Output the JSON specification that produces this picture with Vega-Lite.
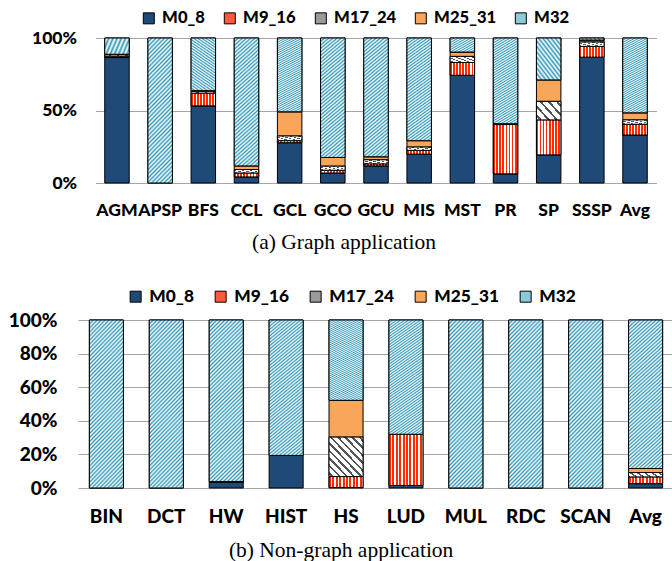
{
"$schema": "https://vega.github.io/schema/vega-lite/v6.json",
"background": "white",
"padding": {"left": 8, "right": 0, "top": 10, "bottom": 0},
"center": true,
"spacing": 35,
"config": {"view": {"stroke": null}},
"resolve": {"scale": {"color": "independent", "x": "independent", "y": "independent"}, "legend": {"color": "independent"}},
"vconcat": [
{
"width": 561, "height": 145,
"title": {"text": "(a) Graph application", "orient": "bottom", "anchor": "middle", "frame": "bounds", "font": "Liberation Serif", "fontSize": 21.5, "fontWeight": "normal", "color": "black", "offset": 13},
"data": {"values": [
{"app":"AGM","m":"M0_8","k":0,"v":86.5},{"app":"AGM","m":"M9_16","k":1,"v":1.0},{"app":"AGM","m":"M17_24","k":2,"v":1.0},{"app":"AGM","m":"M25_31","k":3,"v":0.3},{"app":"AGM","m":"M32","k":4,"v":11.2},
{"app":"APSP","m":"M32","k":4,"v":100},
{"app":"BFS","m":"M0_8","k":0,"v":53.2},{"app":"BFS","m":"M9_16","k":1,"v":8.8},{"app":"BFS","m":"M17_24","k":2,"v":1.2},{"app":"BFS","m":"M25_31","k":3,"v":0.5},{"app":"BFS","m":"M32","k":4,"v":36.3},
{"app":"CCL","m":"M0_8","k":0,"v":4.2},{"app":"CCL","m":"M9_16","k":1,"v":2.7},{"app":"CCL","m":"M17_24","k":2,"v":2.4},{"app":"CCL","m":"M25_31","k":3,"v":2.5},{"app":"CCL","m":"M32","k":4,"v":88.2},
{"app":"GCL","m":"M0_8","k":0,"v":27.8},{"app":"GCL","m":"M9_16","k":1,"v":1.4},{"app":"GCL","m":"M17_24","k":2,"v":3.2},{"app":"GCL","m":"M25_31","k":3,"v":16.7},{"app":"GCL","m":"M32","k":4,"v":50.9},
{"app":"GCO","m":"M0_8","k":0,"v":6.9},{"app":"GCO","m":"M9_16","k":1,"v":1.9},{"app":"GCO","m":"M17_24","k":2,"v":2.8},{"app":"GCO","m":"M25_31","k":3,"v":6.0},{"app":"GCO","m":"M32","k":4,"v":82.4},
{"app":"GCU","m":"M0_8","k":0,"v":11.8},{"app":"GCU","m":"M9_16","k":1,"v":1.4},{"app":"GCU","m":"M17_24","k":2,"v":2.8},{"app":"GCU","m":"M25_31","k":3,"v":2.1},{"app":"GCU","m":"M32","k":4,"v":81.9},
{"app":"MIS","m":"M0_8","k":0,"v":19.9},{"app":"MIS","m":"M9_16","k":1,"v":2.6},{"app":"MIS","m":"M17_24","k":2,"v":2.3},{"app":"MIS","m":"M25_31","k":3,"v":4.4},{"app":"MIS","m":"M32","k":4,"v":70.8},
{"app":"MST","m":"M0_8","k":0,"v":74.3},{"app":"MST","m":"M9_16","k":1,"v":8.8},{"app":"MST","m":"M17_24","k":2,"v":4.2},{"app":"MST","m":"M25_31","k":3,"v":3.0},{"app":"MST","m":"M32","k":4,"v":9.7},
{"app":"PR","m":"M0_8","k":0,"v":6.3},{"app":"PR","m":"M9_16","k":1,"v":34.0},{"app":"PR","m":"M17_24","k":2,"v":0.6},{"app":"PR","m":"M32","k":4,"v":59.1},
{"app":"SP","m":"M0_8","k":0,"v":19.4},{"app":"SP","m":"M9_16","k":1,"v":24.1},{"app":"SP","m":"M17_24","k":2,"v":12.8},{"app":"SP","m":"M25_31","k":3,"v":14.8},{"app":"SP","m":"M32","k":4,"v":28.9},
{"app":"SSSP","m":"M0_8","k":0,"v":86.8},{"app":"SSSP","m":"M9_16","k":1,"v":7.4},{"app":"SSSP","m":"M17_24","k":2,"v":3.0},{"app":"SSSP","m":"M25_31","k":3,"v":1.4},{"app":"SSSP","m":"M32","k":4,"v":1.4},
{"app":"Avg","m":"M0_8","k":0,"v":33.1},{"app":"Avg","m":"M9_16","k":1,"v":7.4},{"app":"Avg","m":"M17_24","k":2,"v":3.0},{"app":"Avg","m":"M25_31","k":3,"v":4.9},{"app":"Avg","m":"M32","k":4,"v":51.6}
]},
"transform": [{"stack": "v", "groupby": ["app"], "sort": [{"field": "k", "order": "ascending"}], "offset": "normalize", "as": ["lo", "hi"]}],
"encoding": {
"x": {"field": "app", "type": "nominal", "sort": null, "scale": {"domain": ["AGM","APSP","BFS","CCL","GCL","GCO","GCU","MIS","MST","PR","SP","SSSP","Avg"], "paddingInner": 0.433, "paddingOuter": 0.214},
 "axis": {"title": null, "labelAngle": 0, "labelFont": "Lato", "labelFontWeight": 900, "labelFontSize": 17.5, "labelColor": "black", "labelPadding": 18, "labelOverlap": false, "ticks": false, "domain": false, "grid": false}},
"y": {"field": "lo", "type": "quantitative", "scale": {"domain": [0, 1]},
 "axis": {"title": null, "values": [0, 0.5, 1], "format": ".0%", "labelFont": "Lato", "labelFontWeight": 900, "labelFontSize": 17.5, "labelColor": "black", "labelPadding": 19, "ticks": false, "domain": false, "grid": true, "gridColor": "#a6a6a6", "gridWidth": 1}},
"y2": {"field": "hi"}
},
"layer": [
{"mark": {"type": "bar", "stroke": "black", "strokeWidth": 1},
 "encoding": {"color": {"field": "m", "type": "nominal",
  "scale": {"domain": ["M0_8", "M9_16", "M17_24", "M25_31", "M32"], "range": ["#1F4A78", "#FF5A3C", "#9A9A9A", "#F9A65A", "#8CC9DA"]},
  "legend": {"orient": "none", "legendX": 45, "legendY": -28, "direction": "horizontal", "title": null, "padding": 0, "symbolType": "square", "symbolSize": 121, "symbolStrokeColor": "black", "symbolStrokeWidth": 1, "symbolOpacity": 1, "labelFont": "Lato", "labelFontWeight": 900, "labelFontSize": 16.6, "labelColor": "black", "labelOffset": 5, "columnPadding": 16}}}},
{"transform": [{"filter": "datum.m === 'M9_16'"}],
 "mark": {"type": "bar", "stroke": "black", "strokeWidth": 1, "fill": {"gradient": "linear", "x1": 0, "y1": 0, "x2": 1, "y2": 0, "stops": [
    {"offset":0,"color":"#FF2A00"},{"offset":0.075,"color":"#FF2A00"},{"offset":0.075,"color":"#FFFFFF"},{"offset":0.125,"color":"#FFFFFF"},
    {"offset":0.125,"color":"#FF2A00"},{"offset":0.2,"color":"#FF2A00"},{"offset":0.2,"color":"#FFFFFF"},{"offset":0.25,"color":"#FFFFFF"},
    {"offset":0.25,"color":"#FF2A00"},{"offset":0.325,"color":"#FF2A00"},{"offset":0.325,"color":"#FFFFFF"},{"offset":0.375,"color":"#FFFFFF"},
    {"offset":0.375,"color":"#FF2A00"},{"offset":0.45,"color":"#FF2A00"},{"offset":0.45,"color":"#FFFFFF"},{"offset":0.5,"color":"#FFFFFF"},
    {"offset":0.5,"color":"#FF2A00"},{"offset":0.575,"color":"#FF2A00"},{"offset":0.575,"color":"#FFFFFF"},{"offset":0.625,"color":"#FFFFFF"},
    {"offset":0.625,"color":"#FF2A00"},{"offset":0.7,"color":"#FF2A00"},{"offset":0.7,"color":"#FFFFFF"},{"offset":0.75,"color":"#FFFFFF"},
    {"offset":0.75,"color":"#FF2A00"},{"offset":0.825,"color":"#FF2A00"},{"offset":0.825,"color":"#FFFFFF"},{"offset":0.875,"color":"#FFFFFF"},
    {"offset":0.875,"color":"#FF2A00"},{"offset":0.95,"color":"#FF2A00"},{"offset":0.95,"color":"#FFFFFF"},{"offset":1,"color":"#FFFFFF"}]}}},
{"transform": [{"filter": "datum.m === 'M17_24'"}],
 "mark": {"type": "bar", "stroke": "black", "strokeWidth": 1, "fill": {"gradient": "linear", "x1": 0, "y1": 1, "x2": 1.147, "y2": 0.22, "stops": [
    {"offset":0,"color":"#FFFFFF"},{"offset":0.07,"color":"#FFFFFF"},{"offset":0.07,"color":"#555555"},{"offset":0.13,"color":"#555555"},
    {"offset":0.13,"color":"#FFFFFF"},{"offset":0.27,"color":"#FFFFFF"},{"offset":0.27,"color":"#555555"},{"offset":0.33,"color":"#555555"},
    {"offset":0.33,"color":"#FFFFFF"},{"offset":0.47,"color":"#FFFFFF"},{"offset":0.47,"color":"#555555"},{"offset":0.53,"color":"#555555"},
    {"offset":0.53,"color":"#FFFFFF"},{"offset":0.67,"color":"#FFFFFF"},{"offset":0.67,"color":"#555555"},{"offset":0.73,"color":"#555555"},
    {"offset":0.73,"color":"#FFFFFF"},{"offset":0.87,"color":"#FFFFFF"},{"offset":0.87,"color":"#555555"},{"offset":0.93,"color":"#555555"},
    {"offset":0.93,"color":"#FFFFFF"},{"offset":1,"color":"#FFFFFF"}]}}},
{"transform": [{"filter": "datum.m === 'M32'"}],
 "mark": {"type": "bar", "stroke": "black", "strokeWidth": 1, "fill": {"gradient": "linear", "x1": 0, "y1": 0, "x2": 0.196, "y2": 1.138, "stops": [
    {"offset":0,"color":"#3399BB"},{"offset":0.0125,"color":"#FFFFFF"},{"offset":0.025,"color":"#3399BB"},{"offset":0.0375,"color":"#FFFFFF"},
    {"offset":0.05,"color":"#3399BB"},{"offset":0.0625,"color":"#FFFFFF"},{"offset":0.075,"color":"#3399BB"},{"offset":0.0875,"color":"#FFFFFF"},
    {"offset":0.1,"color":"#3399BB"},{"offset":0.1125,"color":"#FFFFFF"},{"offset":0.125,"color":"#3399BB"},{"offset":0.1375,"color":"#FFFFFF"},
    {"offset":0.15,"color":"#3399BB"},{"offset":0.1625,"color":"#FFFFFF"},{"offset":0.175,"color":"#3399BB"},{"offset":0.1875,"color":"#FFFFFF"},
    {"offset":0.2,"color":"#3399BB"},{"offset":0.2125,"color":"#FFFFFF"},{"offset":0.225,"color":"#3399BB"},{"offset":0.2375,"color":"#FFFFFF"},
    {"offset":0.25,"color":"#3399BB"},{"offset":0.2625,"color":"#FFFFFF"},{"offset":0.275,"color":"#3399BB"},{"offset":0.2875,"color":"#FFFFFF"},
    {"offset":0.3,"color":"#3399BB"},{"offset":0.3125,"color":"#FFFFFF"},{"offset":0.325,"color":"#3399BB"},{"offset":0.3375,"color":"#FFFFFF"},
    {"offset":0.35,"color":"#3399BB"},{"offset":0.3625,"color":"#FFFFFF"},{"offset":0.375,"color":"#3399BB"},{"offset":0.3875,"color":"#FFFFFF"},
    {"offset":0.4,"color":"#3399BB"},{"offset":0.4125,"color":"#FFFFFF"},{"offset":0.425,"color":"#3399BB"},{"offset":0.4375,"color":"#FFFFFF"},
    {"offset":0.45,"color":"#3399BB"},{"offset":0.4625,"color":"#FFFFFF"},{"offset":0.475,"color":"#3399BB"},{"offset":0.4875,"color":"#FFFFFF"},
    {"offset":0.5,"color":"#3399BB"},{"offset":0.5125,"color":"#FFFFFF"},{"offset":0.525,"color":"#3399BB"},{"offset":0.5375,"color":"#FFFFFF"},
    {"offset":0.55,"color":"#3399BB"},{"offset":0.5625,"color":"#FFFFFF"},{"offset":0.575,"color":"#3399BB"},{"offset":0.5875,"color":"#FFFFFF"},
    {"offset":0.6,"color":"#3399BB"},{"offset":0.6125,"color":"#FFFFFF"},{"offset":0.625,"color":"#3399BB"},{"offset":0.6375,"color":"#FFFFFF"},
    {"offset":0.65,"color":"#3399BB"},{"offset":0.6625,"color":"#FFFFFF"},{"offset":0.675,"color":"#3399BB"},{"offset":0.6875,"color":"#FFFFFF"},
    {"offset":0.7,"color":"#3399BB"},{"offset":0.7125,"color":"#FFFFFF"},{"offset":0.725,"color":"#3399BB"},{"offset":0.7375,"color":"#FFFFFF"},
    {"offset":0.75,"color":"#3399BB"},{"offset":0.7625,"color":"#FFFFFF"},{"offset":0.775,"color":"#3399BB"},{"offset":0.7875,"color":"#FFFFFF"},
    {"offset":0.8,"color":"#3399BB"},{"offset":0.8125,"color":"#FFFFFF"},{"offset":0.825,"color":"#3399BB"},{"offset":0.8375,"color":"#FFFFFF"},
    {"offset":0.85,"color":"#3399BB"},{"offset":0.8625,"color":"#FFFFFF"},{"offset":0.875,"color":"#3399BB"},{"offset":0.8875,"color":"#FFFFFF"},
    {"offset":0.9,"color":"#3399BB"},{"offset":0.9125,"color":"#FFFFFF"},{"offset":0.925,"color":"#3399BB"},{"offset":0.9375,"color":"#FFFFFF"},
    {"offset":0.95,"color":"#3399BB"},{"offset":0.9625,"color":"#FFFFFF"},{"offset":0.975,"color":"#3399BB"},{"offset":0.9875,"color":"#FFFFFF"},
    {"offset":1,"color":"#3399BB"}]}}}
]
},
{
"width": 596, "height": 168,
"title": {"text": "(b) Non-graph application", "orient": "bottom", "anchor": "middle", "frame": "bounds", "font": "Liberation Serif", "fontSize": 21.5, "fontWeight": "normal", "color": "black", "offset": 14},
"data": {"values": [
{"app":"BIN","m":"M32","k":4,"v":100},
{"app":"DCT","m":"M32","k":4,"v":100},
{"app":"HW","m":"M0_8","k":0,"v":3.5},{"app":"HW","m":"M9_16","k":1,"v":0.4},{"app":"HW","m":"M32","k":4,"v":96.1},
{"app":"HIST","m":"M0_8","k":0,"v":19.4},{"app":"HIST","m":"M32","k":4,"v":80.6},
{"app":"HS","m":"M0_8","k":0,"v":0.3},{"app":"HS","m":"M9_16","k":1,"v":6.5},{"app":"HS","m":"M17_24","k":2,"v":23.5},{"app":"HS","m":"M25_31","k":3,"v":21.9},{"app":"HS","m":"M32","k":4,"v":47.8},
{"app":"LUD","m":"M0_8","k":0,"v":1.5},{"app":"LUD","m":"M9_16","k":1,"v":30.5},{"app":"LUD","m":"M32","k":4,"v":68.0},
{"app":"MUL","m":"M32","k":4,"v":100},
{"app":"RDC","m":"M32","k":4,"v":100},
{"app":"SCAN","m":"M32","k":4,"v":100},
{"app":"Avg","m":"M0_8","k":0,"v":2.6},{"app":"Avg","m":"M9_16","k":1,"v":4.0},{"app":"Avg","m":"M17_24","k":2,"v":2.6},{"app":"Avg","m":"M25_31","k":3,"v":2.4},{"app":"Avg","m":"M32","k":4,"v":88.4}
]},
"transform": [{"stack": "v", "groupby": ["app"], "sort": [{"field": "k", "order": "ascending"}], "offset": "normalize", "as": ["lo", "hi"]}],
"encoding": {
"x": {"field": "app", "type": "nominal", "sort": null, "scale": {"domain": ["BIN","DCT","HW","HIST","HS","LUD","MUL","RDC","SCAN","Avg"], "paddingInner": 0.432, "paddingOuter": 0.19},
 "axis": {"title": null, "labelAngle": 0, "labelFont": "Lato", "labelFontWeight": 900, "labelFontSize": 19, "labelColor": "black", "labelPadding": 19, "labelOverlap": false, "ticks": false, "domain": false, "grid": false}},
"y": {"field": "lo", "type": "quantitative", "scale": {"domain": [0, 1]},
 "axis": {"title": null, "values": [0, 0.2, 0.4, 0.6, 0.8, 1], "format": ".0%", "labelFont": "Lato", "labelFontWeight": 900, "labelFontSize": 19, "labelColor": "black", "labelPadding": 21, "ticks": false, "domain": false, "grid": true, "gridColor": "#a6a6a6", "gridWidth": 1}},
"y2": {"field": "hi"}
},
"layer": [
{"mark": {"type": "bar", "stroke": "black", "strokeWidth": 1},
 "encoding": {"color": {"field": "m", "type": "nominal",
  "scale": {"domain": ["M0_8", "M9_16", "M17_24", "M25_31", "M32"], "range": ["#1F4A78", "#FF5A3C", "#9A9A9A", "#F9A65A", "#8CC9DA"]},
  "legend": {"orient": "none", "legendX": 49, "legendY": -32, "direction": "horizontal", "title": null, "padding": 0, "symbolType": "square", "symbolSize": 121, "symbolStrokeColor": "black", "symbolStrokeWidth": 1, "symbolOpacity": 1, "labelFont": "Lato", "labelFontWeight": 900, "labelFontSize": 17.3, "labelColor": "black", "labelOffset": 5, "columnPadding": 18}}}},
{"transform": [{"filter": "datum.m === 'M9_16'"}],
 "mark": {"type": "bar", "stroke": "black", "strokeWidth": 1, "fill": {"gradient": "linear", "x1": 0, "y1": 0, "x2": 1, "y2": 0, "stops": [
    {"offset":0,"color":"#FF2A00"},{"offset":0.06,"color":"#FF2A00"},{"offset":0.06,"color":"#FFFFFF"},{"offset":0.1,"color":"#FFFFFF"},
    {"offset":0.1,"color":"#FF2A00"},{"offset":0.16,"color":"#FF2A00"},{"offset":0.16,"color":"#FFFFFF"},{"offset":0.2,"color":"#FFFFFF"},
    {"offset":0.2,"color":"#FF2A00"},{"offset":0.26,"color":"#FF2A00"},{"offset":0.26,"color":"#FFFFFF"},{"offset":0.3,"color":"#FFFFFF"},
    {"offset":0.3,"color":"#FF2A00"},{"offset":0.36,"color":"#FF2A00"},{"offset":0.36,"color":"#FFFFFF"},{"offset":0.4,"color":"#FFFFFF"},
    {"offset":0.4,"color":"#FF2A00"},{"offset":0.46,"color":"#FF2A00"},{"offset":0.46,"color":"#FFFFFF"},{"offset":0.5,"color":"#FFFFFF"},
    {"offset":0.5,"color":"#FF2A00"},{"offset":0.56,"color":"#FF2A00"},{"offset":0.56,"color":"#FFFFFF"},{"offset":0.6,"color":"#FFFFFF"},
    {"offset":0.6,"color":"#FF2A00"},{"offset":0.66,"color":"#FF2A00"},{"offset":0.66,"color":"#FFFFFF"},{"offset":0.7,"color":"#FFFFFF"},
    {"offset":0.7,"color":"#FF2A00"},{"offset":0.76,"color":"#FF2A00"},{"offset":0.76,"color":"#FFFFFF"},{"offset":0.8,"color":"#FFFFFF"},
    {"offset":0.8,"color":"#FF2A00"},{"offset":0.86,"color":"#FF2A00"},{"offset":0.86,"color":"#FFFFFF"},{"offset":0.9,"color":"#FFFFFF"},
    {"offset":0.9,"color":"#FF2A00"},{"offset":0.96,"color":"#FF2A00"},{"offset":0.96,"color":"#FFFFFF"},{"offset":1,"color":"#FFFFFF"}]}}},
{"transform": [{"filter": "datum.m === 'M17_24'"}],
 "mark": {"type": "bar", "stroke": "black", "strokeWidth": 1, "fill": {"gradient": "linear", "x1": 0, "y1": 1, "x2": 0.945, "y2": -0.05, "stops": [
    {"offset":0,"color":"#FFFFFF"},{"offset":0.0325,"color":"#FFFFFF"},{"offset":0.0325,"color":"#555555"},{"offset":0.0675,"color":"#555555"},
    {"offset":0.0675,"color":"#FFFFFF"},{"offset":0.1325,"color":"#FFFFFF"},{"offset":0.1325,"color":"#555555"},{"offset":0.1675,"color":"#555555"},
    {"offset":0.1675,"color":"#FFFFFF"},{"offset":0.2325,"color":"#FFFFFF"},{"offset":0.2325,"color":"#555555"},{"offset":0.2675,"color":"#555555"},
    {"offset":0.2675,"color":"#FFFFFF"},{"offset":0.3325,"color":"#FFFFFF"},{"offset":0.3325,"color":"#555555"},{"offset":0.3675,"color":"#555555"},
    {"offset":0.3675,"color":"#FFFFFF"},{"offset":0.4325,"color":"#FFFFFF"},{"offset":0.4325,"color":"#555555"},{"offset":0.4675,"color":"#555555"},
    {"offset":0.4675,"color":"#FFFFFF"},{"offset":0.5325,"color":"#FFFFFF"},{"offset":0.5325,"color":"#555555"},{"offset":0.5675,"color":"#555555"},
    {"offset":0.5675,"color":"#FFFFFF"},{"offset":0.6325,"color":"#FFFFFF"},{"offset":0.6325,"color":"#555555"},{"offset":0.6675,"color":"#555555"},
    {"offset":0.6675,"color":"#FFFFFF"},{"offset":0.7325,"color":"#FFFFFF"},{"offset":0.7325,"color":"#555555"},{"offset":0.7675,"color":"#555555"},
    {"offset":0.7675,"color":"#FFFFFF"},{"offset":0.8325,"color":"#FFFFFF"},{"offset":0.8325,"color":"#555555"},{"offset":0.8675,"color":"#555555"},
    {"offset":0.8675,"color":"#FFFFFF"},{"offset":0.9325,"color":"#FFFFFF"},{"offset":0.9325,"color":"#555555"},{"offset":0.9675,"color":"#555555"},
    {"offset":0.9675,"color":"#FFFFFF"},{"offset":1,"color":"#FFFFFF"}]}}},
{"transform": [{"filter": "datum.m === 'M32'"}],
 "mark": {"type": "bar", "stroke": "black", "strokeWidth": 1, "fill": {"gradient": "linear", "x1": 0, "y1": 0, "x2": 0.241, "y2": 1.158, "stops": [
    {"offset":0,"color":"#3399BB"},{"offset":0.01,"color":"#FFFFFF"},{"offset":0.02,"color":"#3399BB"},{"offset":0.03,"color":"#FFFFFF"},
    {"offset":0.04,"color":"#3399BB"},{"offset":0.05,"color":"#FFFFFF"},{"offset":0.06,"color":"#3399BB"},{"offset":0.07,"color":"#FFFFFF"},
    {"offset":0.08,"color":"#3399BB"},{"offset":0.09,"color":"#FFFFFF"},{"offset":0.1,"color":"#3399BB"},{"offset":0.11,"color":"#FFFFFF"},
    {"offset":0.12,"color":"#3399BB"},{"offset":0.13,"color":"#FFFFFF"},{"offset":0.14,"color":"#3399BB"},{"offset":0.15,"color":"#FFFFFF"},
    {"offset":0.16,"color":"#3399BB"},{"offset":0.17,"color":"#FFFFFF"},{"offset":0.18,"color":"#3399BB"},{"offset":0.19,"color":"#FFFFFF"},
    {"offset":0.2,"color":"#3399BB"},{"offset":0.21,"color":"#FFFFFF"},{"offset":0.22,"color":"#3399BB"},{"offset":0.23,"color":"#FFFFFF"},
    {"offset":0.24,"color":"#3399BB"},{"offset":0.25,"color":"#FFFFFF"},{"offset":0.26,"color":"#3399BB"},{"offset":0.27,"color":"#FFFFFF"},
    {"offset":0.28,"color":"#3399BB"},{"offset":0.29,"color":"#FFFFFF"},{"offset":0.3,"color":"#3399BB"},{"offset":0.31,"color":"#FFFFFF"},
    {"offset":0.32,"color":"#3399BB"},{"offset":0.33,"color":"#FFFFFF"},{"offset":0.34,"color":"#3399BB"},{"offset":0.35,"color":"#FFFFFF"},
    {"offset":0.36,"color":"#3399BB"},{"offset":0.37,"color":"#FFFFFF"},{"offset":0.38,"color":"#3399BB"},{"offset":0.39,"color":"#FFFFFF"},
    {"offset":0.4,"color":"#3399BB"},{"offset":0.41,"color":"#FFFFFF"},{"offset":0.42,"color":"#3399BB"},{"offset":0.43,"color":"#FFFFFF"},
    {"offset":0.44,"color":"#3399BB"},{"offset":0.45,"color":"#FFFFFF"},{"offset":0.46,"color":"#3399BB"},{"offset":0.47,"color":"#FFFFFF"},
    {"offset":0.48,"color":"#3399BB"},{"offset":0.49,"color":"#FFFFFF"},{"offset":0.5,"color":"#3399BB"},{"offset":0.51,"color":"#FFFFFF"},
    {"offset":0.52,"color":"#3399BB"},{"offset":0.53,"color":"#FFFFFF"},{"offset":0.54,"color":"#3399BB"},{"offset":0.55,"color":"#FFFFFF"},
    {"offset":0.56,"color":"#3399BB"},{"offset":0.57,"color":"#FFFFFF"},{"offset":0.58,"color":"#3399BB"},{"offset":0.59,"color":"#FFFFFF"},
    {"offset":0.6,"color":"#3399BB"},{"offset":0.61,"color":"#FFFFFF"},{"offset":0.62,"color":"#3399BB"},{"offset":0.63,"color":"#FFFFFF"},
    {"offset":0.64,"color":"#3399BB"},{"offset":0.65,"color":"#FFFFFF"},{"offset":0.66,"color":"#3399BB"},{"offset":0.67,"color":"#FFFFFF"},
    {"offset":0.68,"color":"#3399BB"},{"offset":0.69,"color":"#FFFFFF"},{"offset":0.7,"color":"#3399BB"},{"offset":0.71,"color":"#FFFFFF"},
    {"offset":0.72,"color":"#3399BB"},{"offset":0.73,"color":"#FFFFFF"},{"offset":0.74,"color":"#3399BB"},{"offset":0.75,"color":"#FFFFFF"},
    {"offset":0.76,"color":"#3399BB"},{"offset":0.77,"color":"#FFFFFF"},{"offset":0.78,"color":"#3399BB"},{"offset":0.79,"color":"#FFFFFF"},
    {"offset":0.8,"color":"#3399BB"},{"offset":0.81,"color":"#FFFFFF"},{"offset":0.82,"color":"#3399BB"},{"offset":0.83,"color":"#FFFFFF"},
    {"offset":0.84,"color":"#3399BB"},{"offset":0.85,"color":"#FFFFFF"},{"offset":0.86,"color":"#3399BB"},{"offset":0.87,"color":"#FFFFFF"},
    {"offset":0.88,"color":"#3399BB"},{"offset":0.89,"color":"#FFFFFF"},{"offset":0.9,"color":"#3399BB"},{"offset":0.91,"color":"#FFFFFF"},
    {"offset":0.92,"color":"#3399BB"},{"offset":0.93,"color":"#FFFFFF"},{"offset":0.94,"color":"#3399BB"},{"offset":0.95,"color":"#FFFFFF"},
    {"offset":0.96,"color":"#3399BB"},{"offset":0.97,"color":"#FFFFFF"},{"offset":0.98,"color":"#3399BB"},{"offset":0.99,"color":"#FFFFFF"},
    {"offset":1,"color":"#3399BB"}]}}}
]
}
]
}
